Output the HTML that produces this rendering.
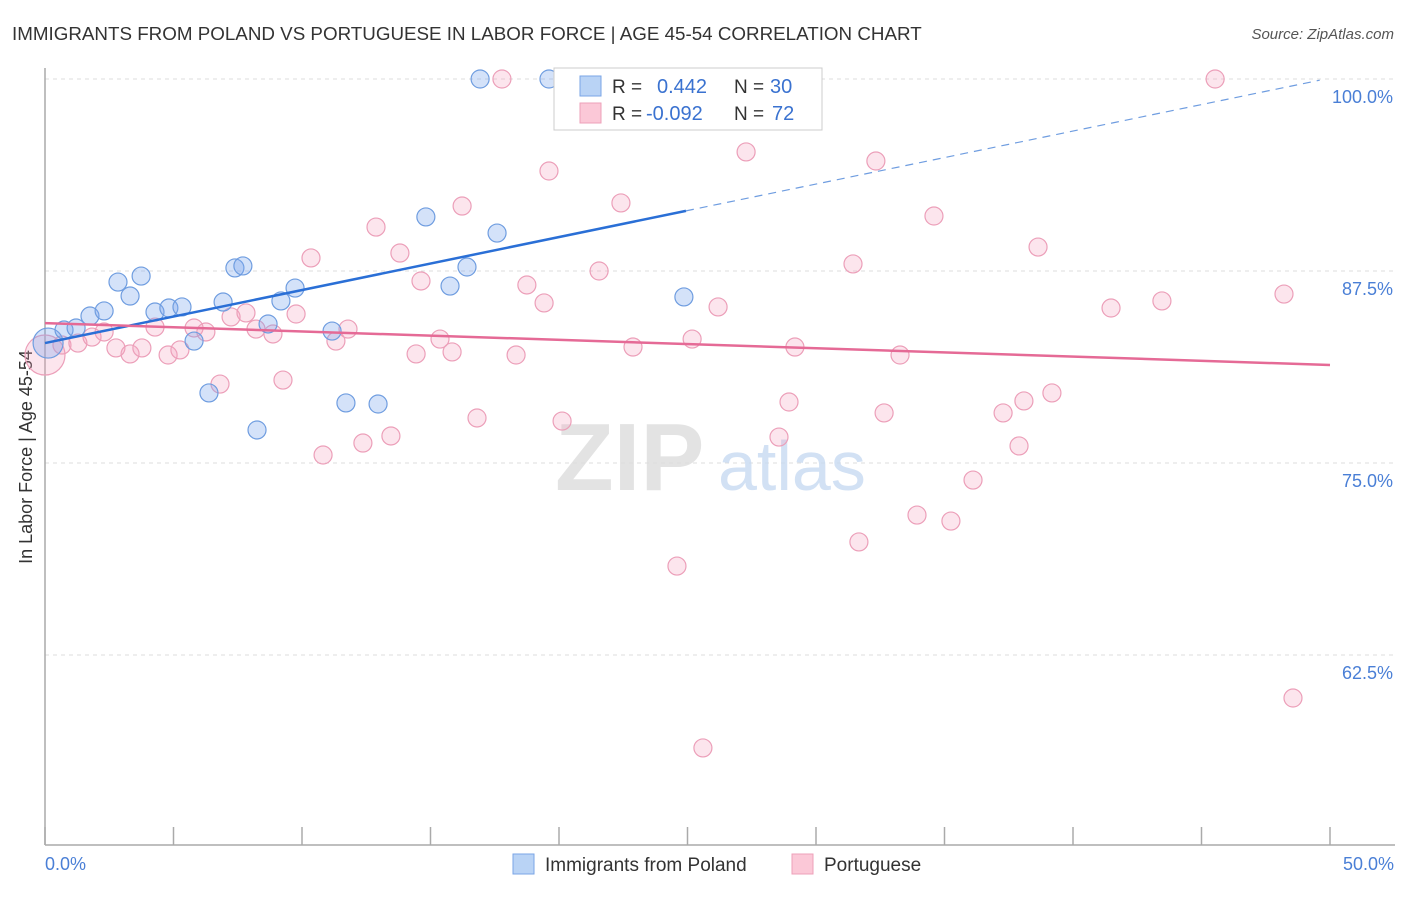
<!DOCTYPE html>
<html><head><meta charset="utf-8"><style>
body{margin:0;background:#fff;font-family:"Liberation Sans",sans-serif;}
svg text{font-family:"Liberation Sans",sans-serif;}
</style></head><body>
<svg id="chart" width="1406" height="892" viewBox="0 0 1406 892" xmlns="http://www.w3.org/2000/svg">
<text x="12" y="40" font-size="18.8" fill="#333">IMMIGRANTS FROM POLAND VS PORTUGUESE IN LABOR FORCE | AGE 45-54 CORRELATION CHART</text>
<text x="1394" y="39" font-size="15" fill="#555" text-anchor="end" font-style="italic">Source: ZipAtlas.com</text>
<g id="grid"></g>
<g>
<text x="555" y="490" font-size="96" fill="#ddd" font-family="Liberation Serif" font-weight="bold" opacity="0.8">ZIP</text>
<text x="718" y="490" font-size="70" fill="#c8daf2" opacity="0.8">atlas</text>
</g>
<line x1="45" y1="68" x2="45" y2="845" stroke="#aaa" stroke-width="1.5"/>
<line x1="45" y1="845" x2="1395" y2="845" stroke="#aaa" stroke-width="1.5"/>
<g id="ticks"></g>
<g id="ylabels"></g>
<text x="45" y="870" font-size="18" fill="#4a7fd6">0.0%</text>
<text x="1394" y="870" font-size="18" fill="#4a7fd6" text-anchor="end">50.0%</text>
<text transform="translate(32,457) rotate(-90)" font-size="18" fill="#333" text-anchor="middle">In Labor Force | Age 45-54</text>
<g id="pinkpts"></g>
<g id="bluepts"></g>
<g id="trends"></g>
<g>
<rect x="554" y="68" width="268" height="62" fill="#fff" stroke="#ccc"/>
<rect x="580" y="76" width="21" height="20" fill="#b9d3f5" stroke="#7aa5e6"/>
<rect x="580" y="103" width="21" height="20" fill="#fbc8d7" stroke="#eea0b9"/>
<text x="612" y="93" font-size="19" fill="#333">R = </text>
<text x="657" y="93" font-size="20" fill="#3a72d0">0.442</text>
<text x="734" y="93" font-size="19" fill="#333">N = </text>
<text x="770" y="93" font-size="20" fill="#3a72d0">30</text>
<text x="612" y="120" font-size="19" fill="#333">R = </text>
<text x="646" y="120" font-size="20" fill="#3a72d0">-0.092</text>
<text x="734" y="120" font-size="19" fill="#333">N = </text>
<text x="772" y="120" font-size="20" fill="#3a72d0">72</text>
</g>
<g>
<rect x="513" y="854" width="21" height="20" fill="#b9d3f5" stroke="#7aa5e6"/>
<text x="545" y="871" font-size="19" fill="#333">Immigrants from Poland</text>
<rect x="792" y="854" width="21" height="20" fill="#fbc8d7" stroke="#eea0b9"/>
<text x="824" y="871" font-size="19" fill="#333">Portuguese</text>
</g>
</svg>
<script>
const blueX=[0.12,0.74,1.21,1.75,2.30,2.84,3.31,3.74,4.28,4.82,5.33,5.80,6.38,6.93,7.39,7.70,8.25,8.68,9.18,9.73,11.17,11.71,12.96,14.82,15.76,16.42,16.93,17.59,19.61,24.86];
const blueY=[82.81,83.66,83.79,84.57,84.90,86.78,85.87,87.17,84.83,85.09,85.16,82.94,79.56,85.48,87.70,87.83,77.15,84.05,85.55,86.39,83.59,78.91,78.84,91.02,86.52,87.76,100,89.97,100,85.81];
const pinkX=[0,0.66,1.28,1.83,2.30,2.76,3.31,3.77,4.28,4.79,5.25,5.80,6.26,6.81,7.24,7.82,8.21,8.87,9.26,9.77,10.35,10.82,11.32,11.79,12.37,12.88,13.46,13.81,14.44,14.63,15.37,15.84,16.23,16.81,17.78,18.33,18.75,19.42,19.61,20.12,21.56,22.41,22.88,24.12,24.59,25.18,25.60,26.19,26.85,27.28,28.56,28.95,29.18,31.44,31.67,32.33,32.65,33.27,33.93,34.59,35.25,36.11,37.28,37.90,38.09,38.64,39.18,41.48,43.46,45.53,48.21,48.56];
const pinkY=[82.03,82.68,82.81,83.20,83.53,82.49,82.10,82.49,83.85,82.03,82.36,83.79,83.53,80.14,84.51,84.77,83.72,83.40,80.40,84.70,88.35,75.52,82.94,83.72,76.30,90.36,76.76,88.67,82.10,86.85,83.07,82.23,91.73,77.93,100,82.03,86.59,85.42,94.01,77.73,87.50,91.93,82.55,100,68.29,83.07,56.45,85.16,100,95.25,76.69,78.97,82.55,87.96,69.86,94.66,78.26,82.03,71.61,91.08,71.22,73.89,78.26,76.11,79.04,89.06,79.56,85.09,85.55,100,86.00,59.70];
const yTicks=[100,87.5,75,62.5];
const yTickLabels=["100.0%","87.5%","75.0%","62.5%"];
const xTicks=[0,5,10,15,20,25,30,35,40,45,50];
const blueTrend=[82.81,0.345];
const pinkTrend=[84.11,-0.0546];
const NS="http://www.w3.org/2000/svg";
const sx=v=>45+v*25.7, sy=v=>79+(100-v)*15.36;
function mk(t,a,p){const e=document.createElementNS(NS,t);for(const k in a)e.setAttribute(k,a[k]);p.appendChild(e);return e;}
const grid=document.getElementById('grid'),yl=document.getElementById('ylabels'),tk=document.getElementById('ticks');
yTicks.forEach((v,i)=>{
 const l=mk('line',{x1:45,x2:1395,y1:sy(v),y2:sy(v),stroke:'#ddd','stroke-dasharray':'4,4'},grid);
 
 
 const t=mk('text',{x:1393,y:sy(v)+24,'font-size':18,fill:'#4a7fd6','text-anchor':'end'},yl);
 t.textContent=yTickLabels[i];
 
 
});
xTicks.forEach(v=>{
 const l=mk('line',{x1:sx(v),x2:sx(v),y1:827,y2:845,stroke:'#aaa','stroke-width':1.5},tk);
 
 
});
const pg=document.getElementById('pinkpts');
pinkX.forEach((x,i)=>{
 const c=mk('circle',{cx:sx(x),cy:sy(pinkY[i]),r:i===0?20:9,fill:'rgba(246,160,190,0.28)',stroke:'#ec9fb9','stroke-width':1.2},pg);
 
 
});
const bg=document.getElementById('bluepts');
blueX.forEach((x,i)=>{
 const c=mk('circle',{cx:sx(x),cy:sy(blueY[i]),r:i===0?15:9,fill:'rgba(120,165,235,0.32)',stroke:'#6f9de0','stroke-width':1.2},bg);
 
 
});
const tr=document.getElementById('trends');
const bf=x=>blueTrend[0]+blueTrend[1]*x, pf=x=>pinkTrend[0]+pinkTrend[1]*x;
const bs=mk('line',{x1:sx(0),y1:sy(bf(0)),x2:sx(24.94),y2:sy(bf(24.94)),stroke:'#2a6fd6','stroke-width':2.5},tr);


const bd=mk('line',{x1:sx(24.94),y1:sy(bf(24.94)),x2:sx(49.6),y2:sy(bf(49.6)),stroke:'#6f9de0','stroke-width':1.2,'stroke-dasharray':'8,6'},tr);


const pl=mk('line',{x1:sx(0),y1:sy(pf(0)),x2:sx(50),y2:sy(pf(50)),stroke:'#e56a96','stroke-width':2.5},tr);


</script>
</body></html>
